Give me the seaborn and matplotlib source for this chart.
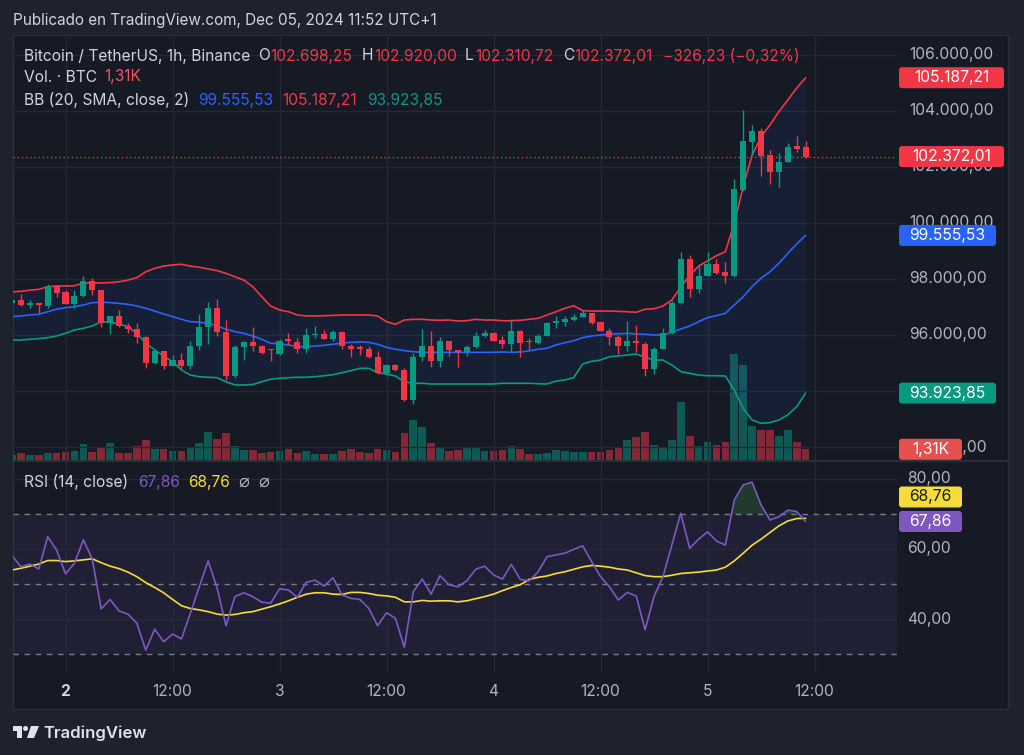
import numpy as np
import matplotlib
matplotlib.use("Agg")
import matplotlib.pyplot as plt
from matplotlib.patches import FancyBboxPatch, Rectangle, Circle, Polygon
from matplotlib.transforms import IdentityTransform, blended_transform_factory
from matplotlib.lines import Line2D
import seaborn as sns

# BTC/USDT 1h candles, Dec 1 18:00 -> Dec 5 11:00
opens = [97130, 97240, 97070, 97150, 97050, 97740, 97520, 97120, 97380, 97920,
         97600, 96440, 96670, 96320, 96210, 95940, 94990, 95430, 94910, 95090,
         94910, 95620, 96270, 96980, 96100, 94540, 95580, 95760, 95610, 95500,
         95320, 95850, 95750, 95490, 95990, 96030, 95870, 96110, 95590, 95560,
         95500, 95220, 94650, 94930, 94760, 93670, 95200, 95620, 95060, 95800,
         95450, 95390, 95570, 95950, 96070, 95820, 95680, 96150, 95800, 95700,
         95960, 96440, 96480, 96530, 96640, 96770, 96460, 96140, 95920, 95610,
         95800, 95680, 94780, 95510, 96060, 97150, 98710, 97630, 98120, 98550,
         98250, 98100, 101180, 102900, 103280, 102410, 101830, 102190, 102740, 102698.25]
highs = [97280, 97480, 97260, 97160, 97810, 97800, 97600, 97620, 98100, 98020,
         97600, 96680, 96890, 96420, 96420, 95960, 95490, 95430, 95270, 95350,
         95800, 96750, 97170, 97300, 96530, 95640, 95800, 96270, 95640, 95510,
         95870, 96060, 95880, 96240, 96330, 96180, 96180, 96140, 95680, 95640,
         95600, 95430, 94970, 94950, 94820, 95370, 96200, 96140, 95940, 95800,
         95480, 95630, 96090, 96180, 96120, 95960, 96570, 96170, 95900, 96040,
         96450, 96680, 96680, 96740, 96890, 96790, 96460, 96240, 96000, 96510,
         96340, 95760, 95560, 96240, 97230, 98960, 98840, 98550, 98960, 98720,
         98600, 101560, 104020, 103490, 103390, 102600, 102510, 102870, 103100, 102920.00]
lows = [97100, 97050, 96950, 96770, 96950, 97360, 97100, 96970, 97360, 97420,
        96300, 96040, 96300, 96080, 95700, 94820, 94960, 94780, 94880, 94740,
        94790, 95470, 95670, 95960, 94380, 94470, 95110, 95420, 95320, 95080,
        95290, 95640, 95350, 95370, 95880, 95860, 95800, 95490, 95230, 95280,
        95170, 94620, 94540, 94700, 93640, 93550, 95080, 94850, 94850, 95250,
        94870, 95250, 95530, 95920, 95800, 95530, 95410, 95210, 95460, 95680,
        95950, 96240, 96330, 96510, 96640, 96410, 96130, 95640, 95310, 95430,
        95410, 94540, 94620, 95500, 96030, 97110, 97360, 97510, 98100, 98170,
        97860, 98070, 101160, 102430, 101680, 101380, 101270, 102170, 102530, 102310.72]
closes = [97240, 97060, 97150, 97070, 97740, 97500, 97120, 97380, 97920, 97600,
          96440, 96670, 96320, 96210, 95940, 94990, 95430, 94910, 95090, 94910,
          95620, 96270, 96980, 96100, 94540, 95580, 95760, 95610, 95350, 95450,
          95800, 95780, 95490, 95990, 96050, 95870, 96110, 95590, 95500, 95500,
          95220, 94650, 94930, 94760, 93670, 95210, 95620, 95060, 95800, 95450,
          95390, 95570, 95960, 96070, 95800, 95680, 96150, 95730, 95740, 95960,
          96440, 96510, 96570, 96650, 96770, 96440, 96130, 95920, 95610, 95800,
          95700, 94780, 95510, 96060, 97160, 98710, 97630, 98120, 98550, 98220,
          98120, 101210, 102920, 103280, 102390, 101830, 102190, 102710, 102630, 102372.01]
volume_k = [0.65, 0.81, 0.65, 0.65, 0.81, 0.89, 1.02, 1.14, 1.96, 1.02,
            1.47, 2.12, 0.81, 0.89, 1.75, 2.48, 1.38, 1.30, 1.14, 1.14,
            1.63, 2.08, 3.38, 2.57, 3.30, 1.71, 1.26, 1.26, 0.81, 0.93,
            1.05, 1.38, 0.86, 1.05, 0.69, 0.69, 0.69, 1.10, 1.30, 0.93,
            0.86, 1.38, 1.26, 1.02, 3.34, 4.90, 4.04, 2.12, 1.63, 1.10,
            1.26, 1.54, 1.54, 1.10, 1.10, 1.26, 1.71, 1.30, 0.69, 0.77,
            0.89, 1.22, 1.10, 1.02, 1.02, 0.93, 1.02, 1.26, 1.47, 2.45,
            2.85, 3.38, 1.84, 1.63, 2.48, 7.05, 2.97, 1.66, 2.24, 1.87,
            2.15, 12.97, 11.66, 4.11, 3.71, 3.71, 2.97, 3.71, 2.24, 1.31]

# Bollinger Bands (20, SMA, close, 2)
bb_upper = [97540, 97560, 97600, 97630, 97725, 97750, 97750, 97760, 97850, 97860,
            97860, 97870, 97900, 97960, 98050, 98260, 98380, 98460, 98500, 98525,
            98460, 98420, 98360, 98300, 98200, 98080, 97960, 97725, 97370, 97035,
            96895, 96830, 96715, 96680, 96680, 96690, 96700, 96715, 96715, 96715,
            96715, 96680, 96475, 96380, 96535, 96560, 96560, 96535, 96525, 96535,
            96500, 96510, 96560, 96535, 96535, 96510, 96510, 96525, 96560, 96595,
            96715, 96830, 96955, 97045, 96870, 96855, 96855, 96855, 96845, 96830,
            96810, 96920, 96940, 97035, 97250, 97715, 98120, 98460, 98645, 98830,
            98975, 99990, 101300, 102430, 103080, 103500, 103975, 104390, 104820, 105187.21]
bb_basis = [96655, 96680, 96715, 96740, 96830, 96920, 96975, 97010, 97070, 97155,
            97170, 97155, 97130, 97095, 97035, 96955, 96855, 96750, 96655, 96560,
            96475, 96455, 96420, 96320, 96205, 96120, 96060, 95965, 95845, 95705,
            95680, 95645, 95580, 95580, 95605, 95630, 95670, 95705, 95740, 95750,
            95740, 95670, 95560, 95490, 95440, 95405, 95380, 95380, 95380, 95380,
            95380, 95380, 95380, 95380, 95380, 95395, 95380, 95395, 95430, 95490,
            95525, 95645, 95725, 95795, 95905, 95965, 96000, 96025, 96045, 96060,
            96035, 96025, 96000, 96000, 96095, 96215, 96320, 96475, 96620, 96690,
            96775, 97070, 97370, 97725, 98025, 98260, 98560, 98915, 99250, 99555.53]
bb_lower = [95820, 95820, 95845, 95870, 95905, 95965, 96060, 96180, 96240, 96320,
            96475, 96455, 96390, 96295, 96060, 95705, 95465, 95250, 95045, 94750,
            94570, 94510, 94490, 94475, 94330, 94215, 94215, 94230, 94330, 94420,
            94455, 94475, 94490, 94490, 94510, 94545, 94580, 94655, 94725, 94810,
            94810, 94655, 94605, 94535, 94330, 94275, 94275, 94250, 94250, 94250,
            94250, 94250, 94250, 94250, 94250, 94275, 94275, 94275, 94275, 94260,
            94250, 94355, 94395, 94475, 94965, 95060, 95105, 95225, 95250, 95285,
            95320, 95205, 95105, 95105, 94930, 94690, 94630, 94570, 94545, 94545,
            94535, 94035, 93380, 92965, 92845, 92870, 92965, 93145, 93440, 93923.85]

# RSI (14, close) and its moving average
rsi = [58.1, 54.9, 55.7, 54.3, 63.5, 59.7, 52.9, 55.9, 62.6, 57.1,
       42.9, 45.6, 42.3, 41.4, 38.8, 31.1, 37.1, 33.5, 35.7, 34.3,
       41.6, 49.2, 56.6, 48.8, 38.1, 46.4, 47.5, 46.4, 44.8, 44.5,
       48.6, 48.3, 46.2, 50.5, 51.1, 49.4, 51.8, 46.9, 45.9, 45.6,
       43.1, 38.1, 41.8, 40.2, 31.9, 47.8, 51.4, 47.1, 52.4, 49.8,
       49.2, 50.9, 54.2, 55.1, 52.6, 51.4, 55.6, 51.3, 50.9, 53.5,
       57.8, 58.3, 58.8, 59.9, 60.9, 56.4, 52.1, 49.2, 45.4, 47.6,
       46.6, 36.9, 46.4, 52.1, 61.1, 70.2, 60.2, 62.8, 64.9, 62.3,
       61.1, 74.0, 78.3, 79.1, 72.6, 68.3, 69.2, 71.1, 70.7, 67.86]
rsi_ma = [54.0, 54.5, 55.1, 55.7, 56.7, 56.7, 56.4, 56.6, 56.9, 57.2,
          56.1, 55.1, 54.4, 53.4, 52.1, 50.4, 49.0, 47.5, 45.6, 43.8,
          43.0, 42.6, 42.1, 41.4, 41.1, 41.3, 41.8, 42.1, 42.8, 43.5,
          44.3, 45.2, 46.2, 47.1, 47.5, 47.5, 47.1, 47.0, 47.6, 47.6,
          47.3, 46.8, 46.6, 46.2, 44.9, 44.9, 45.3, 45.1, 45.2, 45.2,
          44.9, 45.2, 45.8, 46.4, 47.1, 48.1, 49.0, 49.8, 51.3, 51.9,
          52.3, 53.0, 53.5, 54.2, 54.9, 55.3, 55.1, 54.8, 54.3, 54.0,
          53.2, 52.4, 52.1, 52.1, 52.5, 53.0, 53.2, 53.4, 53.7, 54.0,
          54.8, 56.6, 58.8, 61.1, 62.8, 64.7, 66.6, 68.0, 68.7, 68.76]

time_ticks = [6, 18, 30, 42, 54, 66, 78, 90]
time_labels = ["2", "12:00", "3", "12:00", "4", "12:00", "5", "12:00"]
price_ticks = [92000, 94000, 96000, 98000, 100000, 102000, 104000, 106000]
rsi_ticks = [40, 60, 80]

OUTER = "#1e222d"
BG = "#161a25"
GRID = "#252935"
TXT = "#d1d4dc"
AXT = "#b2b5be"
GREEN = "#089981"
RED = "#f23645"
BLUE = "#2962ff"
PURPLE = "#7e57c2"
YELLOW = "#f5dc3a"

sns.set_theme(style="dark", rc={"axes.facecolor": "none", "figure.facecolor": OUTER,
                                "axes.edgecolor": "none", "text.color": TXT})
plt.rcParams["font.family"] = ["Inter", "DejaVu Sans"]

W, H = 1024, 755
fig = plt.figure(figsize=(W / 100, H / 100), dpi=100, facecolor=OUTER)


def rect(x0, y0, x1, y1):
    return [x0 / W, 1 - y1 / H, (x1 - x0) / W, (y1 - y0) / H]


def fmt(v):
    return f"{v:,.2f}".replace(",", "X").replace(".", ",").replace("X", ".")


fig.add_artist(Rectangle((13, H - 709), 995, 674, transform=IdentityTransform(),
                         fc=BG, ec="#2a2e39", lw=1, zorder=0))

o = np.array(opens); h = np.array(highs); l = np.array(lows); c = np.array(closes)
idx = np.arange(len(o))
up = c >= o
cols = np.where(up, GREEN, RED)
XL = (0.11, 99.25)
AX_FS = 11.3

# volume panel (behind the price panel)
ax_vol = fig.add_axes(rect(13, 35, 897, 460))
ax_vol.bar(idx, volume_k, width=0.86, color=cols, alpha=0.5, lw=0)
ax_vol.set_xlim(*XL)
ax_vol.set_ylim(0, 52.0)
ax_vol.axis("off")

# price panel
ax = fig.add_axes(rect(13, 35, 897, 460))
ax.set_xlim(*XL)
ax.set_ylim(91536, 106713)
for p in price_ticks:
    ax.axhline(p, color=GRID, lw=1, zorder=0)
for t in time_ticks:
    ax.axvline(t, color=GRID, lw=1, zorder=0)
ax.fill_between(idx, bb_lower, bb_upper, color=BLUE, alpha=0.07, lw=0, zorder=1)
sns.lineplot(x=idx, y=bb_upper, ax=ax, color=RED, lw=1.2, zorder=2)
sns.lineplot(x=idx, y=bb_basis, ax=ax, color=BLUE, lw=1.2, zorder=2)
sns.lineplot(x=idx, y=bb_lower, ax=ax, color=GREEN, lw=1.2, zorder=2)
ax.vlines(idx, l, h, colors=cols, lw=1, zorder=3)
ax.bar(idx, np.maximum(np.abs(c - o), 40), bottom=np.minimum(o, c), width=0.68,
       color=cols, lw=0, zorder=4)
ax.axhline(c[-1], color=RED, lw=1, ls=(0, (1, 2)), zorder=2)
ax.set_xticks([]); ax.set_yticks([])
ax.set_xlabel(""); ax.set_ylabel("")

ytr = blended_transform_factory(ax.transAxes, ax.transData)
xr = (909 - 13) / 884
for p in price_ticks:
    ax.text(xr, p, fmt(p), transform=ytr, ha="left", va="center", color=AXT,
            fontsize=AX_FS, clip_on=False)

# RSI panel
ax_r = fig.add_axes(rect(13, 461, 897, 672))
ax_r.set_xlim(*XL)
ax_r.set_ylim(24.86, 85.14)
ax_r.axhspan(30, 70, color=PURPLE, alpha=0.1, lw=0, zorder=0)
for r in rsi_ticks:
    ax_r.axhline(r, color=GRID, lw=1, zorder=0)
for t in time_ticks:
    ax_r.axvline(t, color=GRID, lw=1, zorder=0)
for r in (70, 50, 30):
    ax_r.axhline(r, color="#787b86", lw=1, ls=(0, (4, 4)), zorder=1)
rsi_a = np.array(rsi)
ax_r.fill_between(idx, 70, rsi_a, where=rsi_a > 70, interpolate=True,
                  color="#4caf50", alpha=0.22, lw=0, zorder=1)
sns.lineplot(x=idx, y=rsi_ma, ax=ax_r, color=YELLOW, lw=1.2, zorder=2)
sns.lineplot(x=idx, y=rsi, ax=ax_r, color=PURPLE, lw=1.2, zorder=3)
ax_r.set_xticks([]); ax_r.set_yticks([])
ax_r.set_xlabel(""); ax_r.set_ylabel("")
rtr = blended_transform_factory(ax_r.transAxes, ax_r.transData)
for r in rsi_ticks:
    ax_r.text((907 - 13) / 884, r, fmt(r), transform=rtr, ha="left", va="center",
              color=AXT, fontsize=AX_FS, clip_on=False)
xtr = blended_transform_factory(ax_r.transData, ax_r.transAxes)
for t, lab in zip(time_ticks, time_labels):
    ax_r.text(t, -(692 - 672) / 211, lab, transform=xtr, ha="center", va="center",
              color=AXT if lab != "2" else TXT, fontsize=11.2,
              fontweight="bold" if lab == "2" else "normal", clip_on=False)

# panel separator
fig.add_artist(Line2D([13, 1008], [H - 460.5, H - 460.5], transform=IdentityTransform(),
                      color="#2a2e39", lw=1.5))


def tag(yc, x0, x1, text, fc, tc="white"):
    fig.add_artist(FancyBboxPatch((x0, H - yc - 10.5), x1 - x0, 21,
                                  boxstyle="round,pad=0,rounding_size=3",
                                  transform=IdentityTransform(), fc=fc, ec="none", zorder=5))
    fig.text((x0 + x1) / 2 / W, 1 - yc / H, text, ha="center", va="center",
             color=tc, fontsize=AX_FS, zorder=6)


def ypx(axis, v):
    return H - axis.transData.transform((0, v))[1]


tag(ypx(ax, bb_upper[-1]), 899, 1004, fmt(bb_upper[-1]), RED)
tag(ypx(ax, c[-1]), 899, 1004, fmt(c[-1]), RED)
tag(ypx(ax, bb_basis[-1]), 899, 996, fmt(bb_basis[-1]), BLUE)
tag(ypx(ax, bb_lower[-1]), 899, 996, fmt(bb_lower[-1]), GREEN)
tag(ypx(ax_vol, volume_k[-1]), 899, 962, "1,31K", "#e8504f")
tag(497, 899, 962, fmt(rsi_ma[-1]), YELLOW, "#131722")
tag(ypx(ax_r, rsi[-1]), 899, 962, fmt(rsi[-1]), PURPLE)

# header & legends
fig.text(13 / W, 1 - 21 / H, "Publicado en TradingView.com, Dec 05, 2024 11:52 UTC+1",
         ha="left", va="center", color=TXT, fontsize=11)


def legend_row(y, parts, size=11.2):
    for txt, x, col in parts:
        fig.text(x / W, 1 - y / H, txt, ha="left", va="center", color=col, fontsize=size)


legend_row(56, [("Bitcoin / TetherUS, 1h, Binance", 24, TXT),
                ("O", 258, TXT), (fmt(o[-1]), 270, RED),
                ("H", 362, TXT), (fmt(h[-1]), 374, RED),
                ("L", 465, TXT), (fmt(l[-1]), 475, RED),
                ("C", 563, TXT), (fmt(c[-1]), 574, RED),
                ("\u2212326,23 (\u22120,32%)", 663, RED)])
legend_row(77, [("Vol. \u00b7 BTC", 24, TXT), ("1,31K", 104, "#f7525f")])
legend_row(100, [("BB (20, SMA, close, 2)", 24, TXT),
                 (fmt(bb_basis[-1]), 198, BLUE),
                 (fmt(bb_upper[-1]), 282, RED),
                 (fmt(bb_lower[-1]), 367, GREEN)])
legend_row(482, [("RSI (14, close)", 24, TXT),
                 (fmt(rsi[-1]), 138, PURPLE),
                 (fmt(rsi_ma[-1]), 188, YELLOW)])
for xg in (244, 264):
    fig.text(xg / W, 1 - 482 / H, "\u2300", ha="center", va="center", color=AXT,
             fontsize=13, family="DejaVu Sans")

# TradingView logo
logo_c = "#e0e3eb"
fig.add_artist(Polygon([(13, H - 726), (22, H - 726), (22, H - 738), (17, H - 738),
                        (17, H - 731), (13, H - 731)], closed=True,
                       transform=IdentityTransform(), fc=logo_c, ec="none"))
fig.add_artist(Circle((25.5, H - 728.5), 2.5, transform=IdentityTransform(),
                      fc=logo_c, ec="none"))
fig.add_artist(Polygon([(31, H - 726), (39, H - 726), (34, H - 738), (27, H - 738)],
                       closed=True, transform=IdentityTransform(), fc=logo_c, ec="none"))
fig.text(43 / W, 1 - 733 / H, "TradingView", ha="left", va="center", color=logo_c,
         fontsize=12, fontweight="semibold")

fig.savefig("out.png", dpi=100, facecolor=OUTER)
